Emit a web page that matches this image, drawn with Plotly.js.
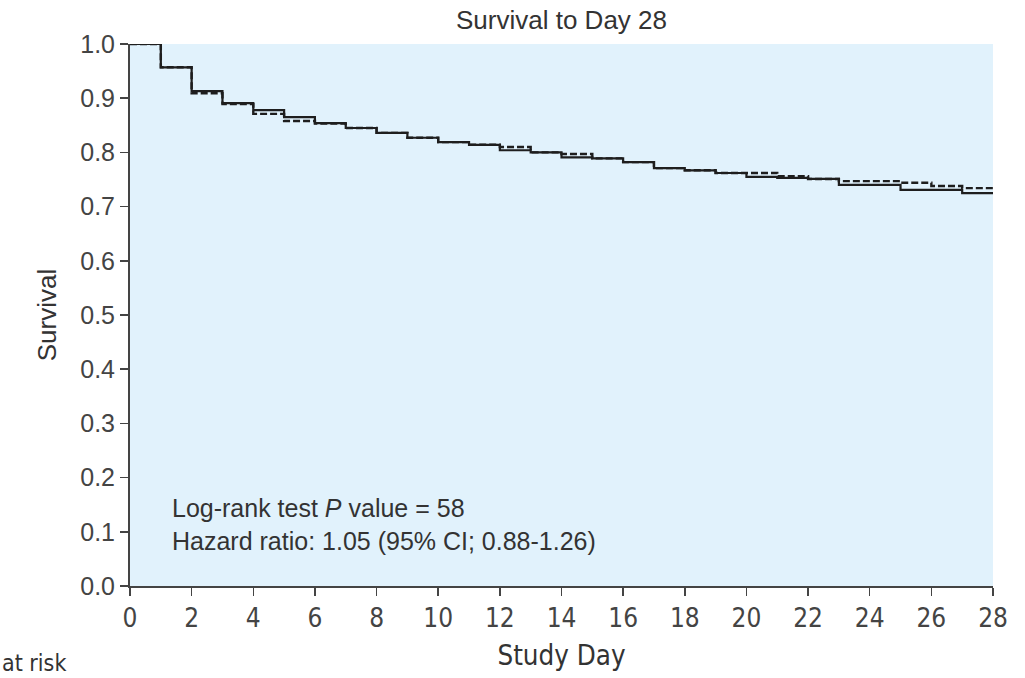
<!DOCTYPE html>
<html>
<head>
<meta charset="utf-8">
<script src="https://cdn.plot.ly/plotly-3.0.1.min.js"></script>
<style>html,body{margin:0;padding:0;background:#fff;} #chart{width:1025px;height:678px;}</style>
</head>
<body>
<div id="chart"></div>
<script>
const days = [0,1,2,3,4,5,6,7,8,9,10,11,12,13,14,15,16,17,18,19,20,21,22,23,24,25,26,27,28];
const survivalSolid = [1.0,0.957,0.913,0.891,0.878,0.865,0.854,0.845,0.836,0.827,0.819,0.814,0.804,0.800,0.791,0.789,0.782,0.771,0.767,0.762,0.755,0.753,0.751,0.740,0.740,0.731,0.731,0.725,0.723];
const survivalDashed = [1.0,0.957,0.909,0.889,0.871,0.858,0.853,0.845,0.836,0.827,0.819,0.814,0.810,0.800,0.797,0.789,0.782,0.771,0.767,0.762,0.762,0.756,0.751,0.747,0.747,0.744,0.738,0.734,0.734];
const xTicks = [0,2,4,6,8,10,12,14,16,18,20,22,24,26,28];
const yTicks = [0,0.1,0.2,0.3,0.4,0.5,0.6,0.7,0.8,0.9,1.0];
const yTickText = ["0.0","0.1","0.2","0.3","0.4","0.5","0.6","0.7","0.8","0.9","1.0"];

const ink = '#1e1e1e';
const narrow = 'Liberation Sans Narrow, DejaVu Sans Condensed, sans-serif';
const traces = [
  {x: days, y: survivalDashed, mode: 'lines', line: {shape: 'hv', color: ink, width: 2.4, dash: '7px,3px'}, hoverinfo: 'skip'},
  {x: days, y: survivalSolid, mode: 'lines', line: {shape: 'hv', color: ink, width: 2.2}, hoverinfo: 'skip'}
];

const layout = {
  width: 1025, height: 678,
  margin: {l: 130, r: 32, t: 44, b: 92},
  paper_bgcolor: '#ffffff',
  plot_bgcolor: '#e1f2fc',
  showlegend: false,
  font: {family: 'Liberation Sans, Arial, sans-serif', color: '#333'},
  title: {text: 'Survival to Day 28', font: {size: 26, color: '#333'}, x: 0.5, xref: 'paper', xanchor: 'center', y: 0.97, yanchor: 'middle'},
  xaxis: {
    range: [0, 28], tickvals: xTicks, ticktext: xTicks.map(String),
    showgrid: false, zeroline: false, showline: true, linecolor: '#444', linewidth: 2,
    ticks: 'outside', ticklen: 8, tickwidth: 1.5, tickcolor: '#444',
    tickfont: {family: narrow, size: 26, color: '#444'},
    title: {text: 'Study Day', font: {family: narrow, size: 27.5, color: '#333'}, standoff: 14},
    fixedrange: true
  },
  yaxis: {
    range: [0, 1.0], tickvals: yTicks, ticktext: yTickText,
    showgrid: false, zeroline: false, showline: true, linecolor: '#444', linewidth: 2,
    ticks: 'outside', ticklen: 8, tickwidth: 1.5, tickcolor: '#444',
    tickfont: {size: 25, color: '#444'},
    title: {text: 'Survival', font: {size: 26, color: '#333'}, standoff: 16},
    fixedrange: true
  },
  annotations: [
    {xref: 'paper', yref: 'paper', x: (170-130)/863, y: (586-508)/542, xanchor: 'left', yanchor: 'middle', showarrow: false,
     text: 'Log-rank test <i>P</i> value = 58', font: {size: 25, color: '#333'}},
    {xref: 'paper', yref: 'paper', x: (170-130)/863, y: (586-541)/542, xanchor: 'left', yanchor: 'middle', showarrow: false,
     text: 'Hazard ratio: 1.05 (95% CI; 0.88-1.26)', font: {size: 25, color: '#333'}},
    {xref: 'paper', yref: 'paper', x: (0-130)/863, y: (586-663)/542, xanchor: 'left', yanchor: 'middle', showarrow: false,
     text: 'at risk', font: {family: narrow, size: 23, color: '#333'}}
  ]
};

Plotly.newPlot('chart', traces, layout, {staticPlot: true, displayModeBar: false});
</script>
</body>
</html>
